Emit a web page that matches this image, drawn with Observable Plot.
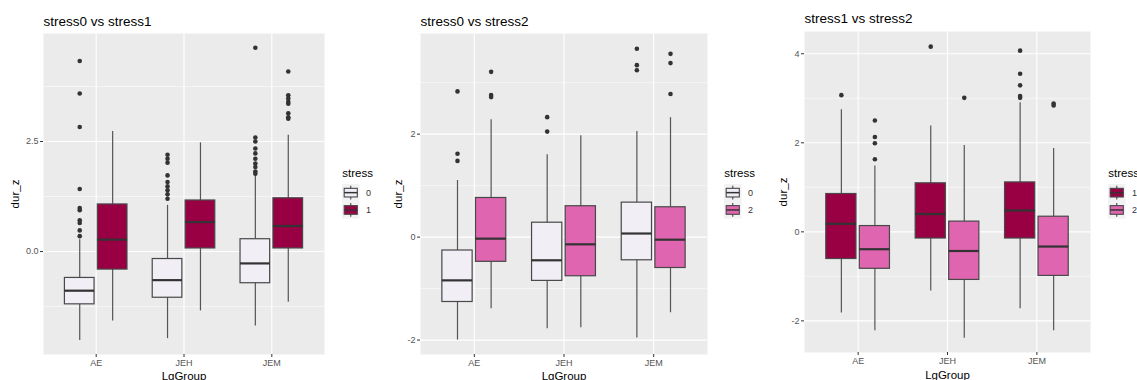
<!DOCTYPE html>
<html>
<head>
<meta charset="utf-8">
<script src="https://cdn.jsdelivr.net/npm/d3@7"></script>
<script src="https://cdn.jsdelivr.net/npm/@observablehq/plot@0.6"></script>
<style>
  body { margin: 0; background: #fff; font-family: "Liberation Sans", Arial, sans-serif; }
  #root { position: relative; width: 1137px; height: 380px; overflow: hidden; background: #fff; }
  .panel { position: absolute; top: 0; }
  .legend { position: absolute; top: 160px; }
</style>
</head>
<body>
<div id="root"></div>
<script>
// ---------------- data ----------------
const groups = ["AE", "JEH", "JEM"];

// Panel 1: stress0 vs stress1
const p1_s0_low  = [-2.02, -1.98, -1.69];
const p1_s0_q1   = [-1.20, -1.05, -0.72];
const p1_s0_med  = [-0.89, -0.65, -0.27];
const p1_s0_q3   = [-0.60, -0.17, 0.28];
const p1_s0_high = [0.27, 1.05, 1.72];
const p1_s0_out  = [
  [4.33, 3.59, 2.83, 1.42, 0.99, 0.94, 0.71, 0.65, 0.48, 0.35],
  [2.20, 2.11, 2.02, 1.73, 1.58, 1.48, 1.39, 1.30, 1.20],
  [4.63, 2.59, 2.50, 2.34, 2.23, 2.11, 2.00, 1.92, 1.82, 1.77]
];
const p1_s1_low  = [-1.58, -1.35, -1.15];
const p1_s1_q1   = [-0.41, 0.07, 0.07];
const p1_s1_med  = [0.27, 0.67, 0.58];
const p1_s1_q3   = [1.07, 1.16, 1.21];
const p1_s1_high = [2.73, 2.47, 2.64];
const p1_s1_out  = [[], [], [4.09, 3.55, 3.48, 3.40, 3.36, 3.14, 3.05, 3.02]];

// Panel 2: stress0 vs stress2
const p2_s0_low  = [-2.00, -1.78, -1.96];
const p2_s0_q1   = [-1.26, -0.85, -0.45];
const p2_s0_med  = [-0.84, -0.45, 0.07];
const p2_s0_q3   = [-0.26, 0.28, 0.67];
const p2_s0_high = [1.10, 1.60, 2.05];
const p2_s0_out  = [[2.83, 1.62, 1.48], [2.33, 2.05], [3.66, 3.34, 3.24]];
const p2_s2_low  = [-1.39, -1.76, -1.47];
const p2_s2_q1   = [-0.48, -0.76, -0.60];
const p2_s2_med  = [-0.03, -0.14, -0.05];
const p2_s2_q3   = [0.76, 0.60, 0.58];
const p2_s2_high = [2.28, 1.97, 2.32];
const p2_s2_out  = [[3.21, 2.76, 2.72], [], [3.56, 3.38, 2.78]];

// Panel 3: stress1 vs stress2
const p3_s1_low  = [-1.82, -1.33, -1.73];
const p3_s1_q1   = [-0.61, -0.15, -0.15];
const p3_s1_med  = [0.18, 0.40, 0.48];
const p3_s1_q3   = [0.85, 1.09, 1.11];
const p3_s1_high = [2.74, 2.38, 2.90];
const p3_s1_out  = [[3.07], [4.16], [4.07, 3.55, 3.29, 3.05, 3.01]];
const p3_s2_low  = [-2.22, -2.39, -2.22];
const p3_s2_q1   = [-0.83, -1.08, -0.99];
const p3_s2_med  = [-0.39, -0.43, -0.33];
const p3_s2_q3   = [0.13, 0.23, 0.34];
const p3_s2_high = [1.48, 1.94, 1.87];
const p3_s2_out  = [[2.50, 2.13, 1.99, 1.63], [3.01], [2.88, 2.84]];

const titles = ["stress0 vs stress1", "stress0 vs stress2", "stress1 vs stress2"];
const levels = [["0", "1"], ["0", "2"], ["1", "2"]];
const stressColors = { "0": "#F1EEF6", "1": "#980043", "2": "#DF65B0" };
const yMajor = [[0, 2.5], [-2, 0, 2], [-2, 0, 2, 4]];
const yMinor = [[-1.25, 1.25, 3.75], [-1, 1, 3], [-1, 1, 3]];

const series = [
  [
    { low: p1_s0_low, q1: p1_s0_q1, med: p1_s0_med, q3: p1_s0_q3, high: p1_s0_high, out: p1_s0_out },
    { low: p1_s1_low, q1: p1_s1_q1, med: p1_s1_med, q3: p1_s1_q3, high: p1_s1_high, out: p1_s1_out }
  ],
  [
    { low: p2_s0_low, q1: p2_s0_q1, med: p2_s0_med, q3: p2_s0_q3, high: p2_s0_high, out: p2_s0_out },
    { low: p2_s2_low, q1: p2_s2_q1, med: p2_s2_med, q3: p2_s2_q3, high: p2_s2_high, out: p2_s2_out }
  ],
  [
    { low: p3_s1_low, q1: p3_s1_q1, med: p3_s1_med, q3: p3_s1_q3, high: p3_s1_high, out: p3_s1_out },
    { low: p3_s2_low, q1: p3_s2_q1, med: p3_s2_med, q3: p3_s2_q3, high: p3_s2_high, out: p3_s2_out }
  ]
];

// ---------------- layout ----------------
const FONT = '"Liberation Sans", Arial, sans-serif';
const layout = [
  { left: 0,   width: 330, mL: 43, mR: 6, mT: 33, mB: 26, yDomain: [-2.34, 4.955], fmt: d => d.toFixed(1), titleDy: -8,   ylabDx: -28.5, xlabDy: 25,   legendX: 341.5 },
  { left: 370, width: 343, mL: 50, mR: 6, mT: 33, mB: 26, yDomain: [-2.28, 3.955], fmt: d => String(d),   titleDy: -8,   ylabDx: -22,   xlabDy: 25,   legendX: 723.5 },
  { left: 760, width: 336, mL: 44, mR: 6, mT: 31, mB: 28, yDomain: [-2.71, 4.50],  fmt: d => String(d),   titleDy: -8.3, ylabDx: -21.5, xlabDy: 26.5, legendX: 1107.5 }
];

const DODGE = 0.1875, HALF = 0.16875;
const root = document.getElementById("root");

function buildPanel(k) {
  const L = layout[k];
  const rows = [], outs = [];
  levels[k].forEach((lev, j) => {
    const s = series[k][j];
    groups.forEach((g, i) => {
      const xc = i + 1 + (j === 0 ? -DODGE : DODGE);
      rows.push({ group: g, stress: lev, xc, xl: xc - HALF, xr: xc + HALF,
        low: s.low[i], q1: s.q1[i], med: s.med[i], q3: s.q3[i], high: s.high[i] });
      s.out[i].forEach(v => outs.push({ group: g, stress: lev, xc, v }));
    });
  });

  const chart = Plot.plot({
    width: L.width, height: 380,
    marginLeft: L.mL, marginRight: L.mR, marginTop: L.mT, marginBottom: L.mB,
    style: { fontFamily: FONT, background: "transparent", overflow: "visible" },
    x: { type: "linear", domain: [0.4, 3.6] },
    y: { domain: L.yDomain },
    color: { domain: levels[k], range: levels[k].map(l => stressColors[l]) },
    marks: [
      Plot.frame({ fill: "#EBEBEB", stroke: "none" }),
      Plot.ruleY(yMinor[k], { stroke: "#fff", strokeWidth: 0.55 }),
      Plot.ruleY(yMajor[k], { stroke: "#fff", strokeWidth: 1.1 }),
      Plot.ruleX([1, 2, 3], { stroke: "#fff", strokeWidth: 1.1 }),
      Plot.ruleX(rows, { x: "xc", y1: "low", y2: "high", stroke: "#555", strokeWidth: 1.2 }),
      Plot.rect(rows, { x1: "xl", x2: "xr", y1: "q1", y2: "q3", fill: "stress", stroke: "#484848", strokeWidth: 1.2 }),
      Plot.ruleY(rows, { y: "med", x1: "xl", x2: "xr", stroke: "#333", strokeWidth: 2.2 }),
      Plot.dot(outs, { x: "xc", y: "v", r: 2.3, fill: "#333", stroke: "none" }),
      Plot.axisX({ ticks: [1, 2, 3], tickFormat: d => groups[d - 1], tickSize: 3, tickPadding: 2,
        fontSize: 9, fill: "#555", stroke: "#333", label: null }),
      Plot.axisY({ ticks: yMajor[k], tickFormat: L.fmt, tickSize: 3, tickPadding: 2,
        fontSize: 9, fill: "#555", stroke: "#333", label: null }),
      Plot.text([titles[k]], { text: d => d, frameAnchor: "top-left", textAnchor: "start", lineAnchor: "bottom",
        dy: L.titleDy, fontSize: 13.5, fill: "#000" }),
      Plot.text(["dur_z"], { text: d => d, frameAnchor: "left", rotate: -90, dx: L.ylabDx,
        textAnchor: "middle", lineAnchor: "middle", fontSize: 11.5, fill: "#000" }),
      Plot.text(["LgGroup"], { text: d => d, frameAnchor: "bottom", lineAnchor: "bottom", dy: L.xlabDy,
        fontSize: 11.5, fill: "#000" })
    ]
  });
  const div = document.createElement("div");
  div.className = "panel";
  div.style.left = L.left + "px";
  div.appendChild(chart);
  root.appendChild(div);

  // legend (boxplot-style keys)
  const lg = document.createElement("div");
  lg.className = "legend";
  lg.style.left = L.legendX + "px";
  const svg = d3.create("svg").attr("width", 50).attr("height", 64)
    .style("font-family", FONT).style("overflow", "visible");
  svg.append("text").attr("x", 0.3).attr("y", 17).attr("font-size", 11.5).attr("fill", "#000").text("stress");
  const keyH = 17.3, keyW = 17.5, top0 = 24;
  svg.append("rect").attr("x", 0).attr("y", top0).attr("width", keyW).attr("height", keyH * 2).attr("fill", "#F2F2F2");
  levels[k].forEach((lev, j) => {
    const ky = top0 + j * keyH;
    const cx = keyW / 2;
    svg.append("line").attr("x1", cx).attr("x2", cx).attr("y1", ky + 0.1 * keyH).attr("y2", ky + 0.9 * keyH)
      .attr("stroke", "#444").attr("stroke-width", 1.1);
    svg.append("rect").attr("x", keyW * 0.125).attr("width", keyW * 0.75)
      .attr("y", ky + 0.25 * keyH).attr("height", keyH * 0.5)
      .attr("fill", stressColors[lev]).attr("stroke", "#484848").attr("stroke-width", 1.1);
    svg.append("line").attr("x1", keyW * 0.125).attr("x2", keyW * 0.875).attr("y1", ky + keyH / 2).attr("y2", ky + keyH / 2)
      .attr("stroke", "#333").attr("stroke-width", 1.5);
    svg.append("text").attr("x", keyW + 6.5).attr("y", ky + keyH / 2).attr("dy", "0.35em")
      .attr("font-size", 9).attr("fill", "#333").text(lev);
  });
  lg.appendChild(svg.node());
  root.appendChild(lg);
}

[0, 1, 2].forEach(buildPanel);
</script>
</body>
</html>
